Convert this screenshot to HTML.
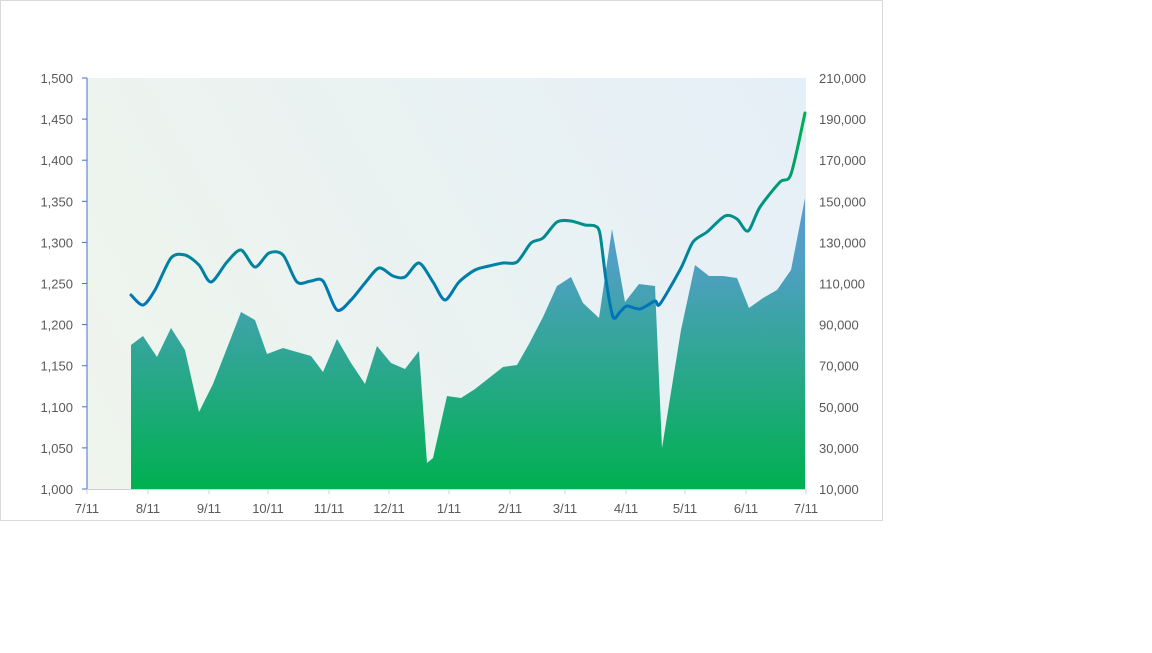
<!DOCTYPE html>
<html><head><meta charset="utf-8"><style>
body{margin:0;background:#fff;width:1152px;height:648px;overflow:hidden}
svg text{font-family:"Liberation Sans",sans-serif;font-size:13px;fill:#595959}
</style></head><body>
<svg width="1152" height="648" xmlns="http://www.w3.org/2000/svg">
<defs>
<linearGradient id="bg" x1="87" y1="489" x2="806" y2="78" gradientUnits="userSpaceOnUse">
<stop offset="0" stop-color="#eff5ec"/><stop offset="1" stop-color="#e5eff7"/></linearGradient>
<linearGradient id="ar" x1="0" y1="180" x2="0" y2="489" gradientUnits="userSpaceOnUse">
<stop offset="0" stop-color="#5b9bd5"/><stop offset="0.25" stop-color="#529fc6"/><stop offset="1" stop-color="#00b050"/></linearGradient>
<linearGradient id="ln" x1="0" y1="320" x2="0" y2="120" gradientUnits="userSpaceOnUse">
<stop offset="0" stop-color="#0070c0"/><stop offset="1" stop-color="#00b050"/></linearGradient>
</defs>
<rect x="0.5" y="0.5" width="882" height="520" fill="#fff" stroke="#d9d9d9"/>
<rect x="87" y="78" width="719" height="411" fill="url(#bg)"/>
<polygon fill="url(#ar)" points="131,489 131,345 143,336 157,357 171,328 185,350 199,412 213,384 229,343 241,312 255,320 267,354 283,348 311,356 323,372 337,339 351,363 365,384 377,346 391,363 405,369 419,351 427,463 433,458 447,396 461,398 475,389 489,378 503,367 517,365 529,344 543,317 557,286 571,277 583,303 599,318 612,229 625,302 639,284 655,286 662,448 681,330 695,265 709,276 723,276 737,278 749,308 763,298 777,290 791,270 805,198 805,489"/>
<path id="line" fill="none" stroke="url(#ln)" stroke-width="3" stroke-linejoin="round" stroke-linecap="round"/>
<line x1="87" y1="78" x2="87" y2="489" stroke="#4472c4" stroke-width="1"/>
<line x1="87" y1="489.5" x2="806" y2="489.5" stroke="#d0d0d0"/>
<g id="ticks"></g>
</svg>
<script>
var p=[[131,295],[143,305],[155,290],[171,258],[185,255],[199,265],[211,282],[227,262],[241,250],[255,267],[269,253],[283,255],[297,282],[311,281],[323,281],[337,310],[351,300],[365,283],[379,268],[393,276],[405,277],[419,263],[433,282],[445,300],[459,282],[475,270],[489,266],[503,263],[517,262],[531,243],[543,238],[557,222],[571,221],[585,225],[595,226],[600,234],[606,280],[613,317],[620,312],[627,306],[640,309],[655,301],[660,304],[681,268],[693,242],[707,232],[725,216],[737,219],[748,231],[760,207],[780,182],[791,174],[805,113]];
var d="M"+p[0][0]+","+p[0][1];
for(var i=0;i<p.length-1;i++){var a=p[Math.max(i-1,0)],b=p[i],c=p[i+1],e=p[Math.min(i+2,p.length-1)],t=7;
d+=" C"+(b[0]+(c[0]-a[0])/t)+","+(b[1]+(c[1]-a[1])/t)+" "+(c[0]-(e[0]-b[0])/t)+","+(c[1]-(e[1]-b[1])/t)+" "+c[0]+","+c[1];}
document.getElementById("line").setAttribute("d",d);
var g=document.getElementById("ticks"),s="";
for(var k=0;k<=10;k++){var y=489-k*41.1;
s+='<line x1="82" x2="87" y1="'+y+'" y2="'+y+'" stroke="#4472c4"/>';
s+='<text x="73" y="'+(y+5)+'" text-anchor="end">'+(1000+k*50).toLocaleString("en-US")+'</text>';
s+='<text x="819" y="'+(y+5)+'">'+(10000+k*20000).toLocaleString("en-US")+'</text>';}
var xs=[87,148,209,268,329,389,449,510,565,626,685,746,806],lb=["7/11","8/11","9/11","10/11","11/11","12/11","1/11","2/11","3/11","4/11","5/11","6/11","7/11"];
for(var j=0;j<xs.length;j++){s+='<line x1="'+xs[j]+'" x2="'+xs[j]+'" y1="489" y2="494" stroke="#d0d0d0"/>';
s+='<text x="'+xs[j]+'" y="513" text-anchor="middle">'+lb[j]+'</text>';}
g.innerHTML=s;
</script>
</body></html>
